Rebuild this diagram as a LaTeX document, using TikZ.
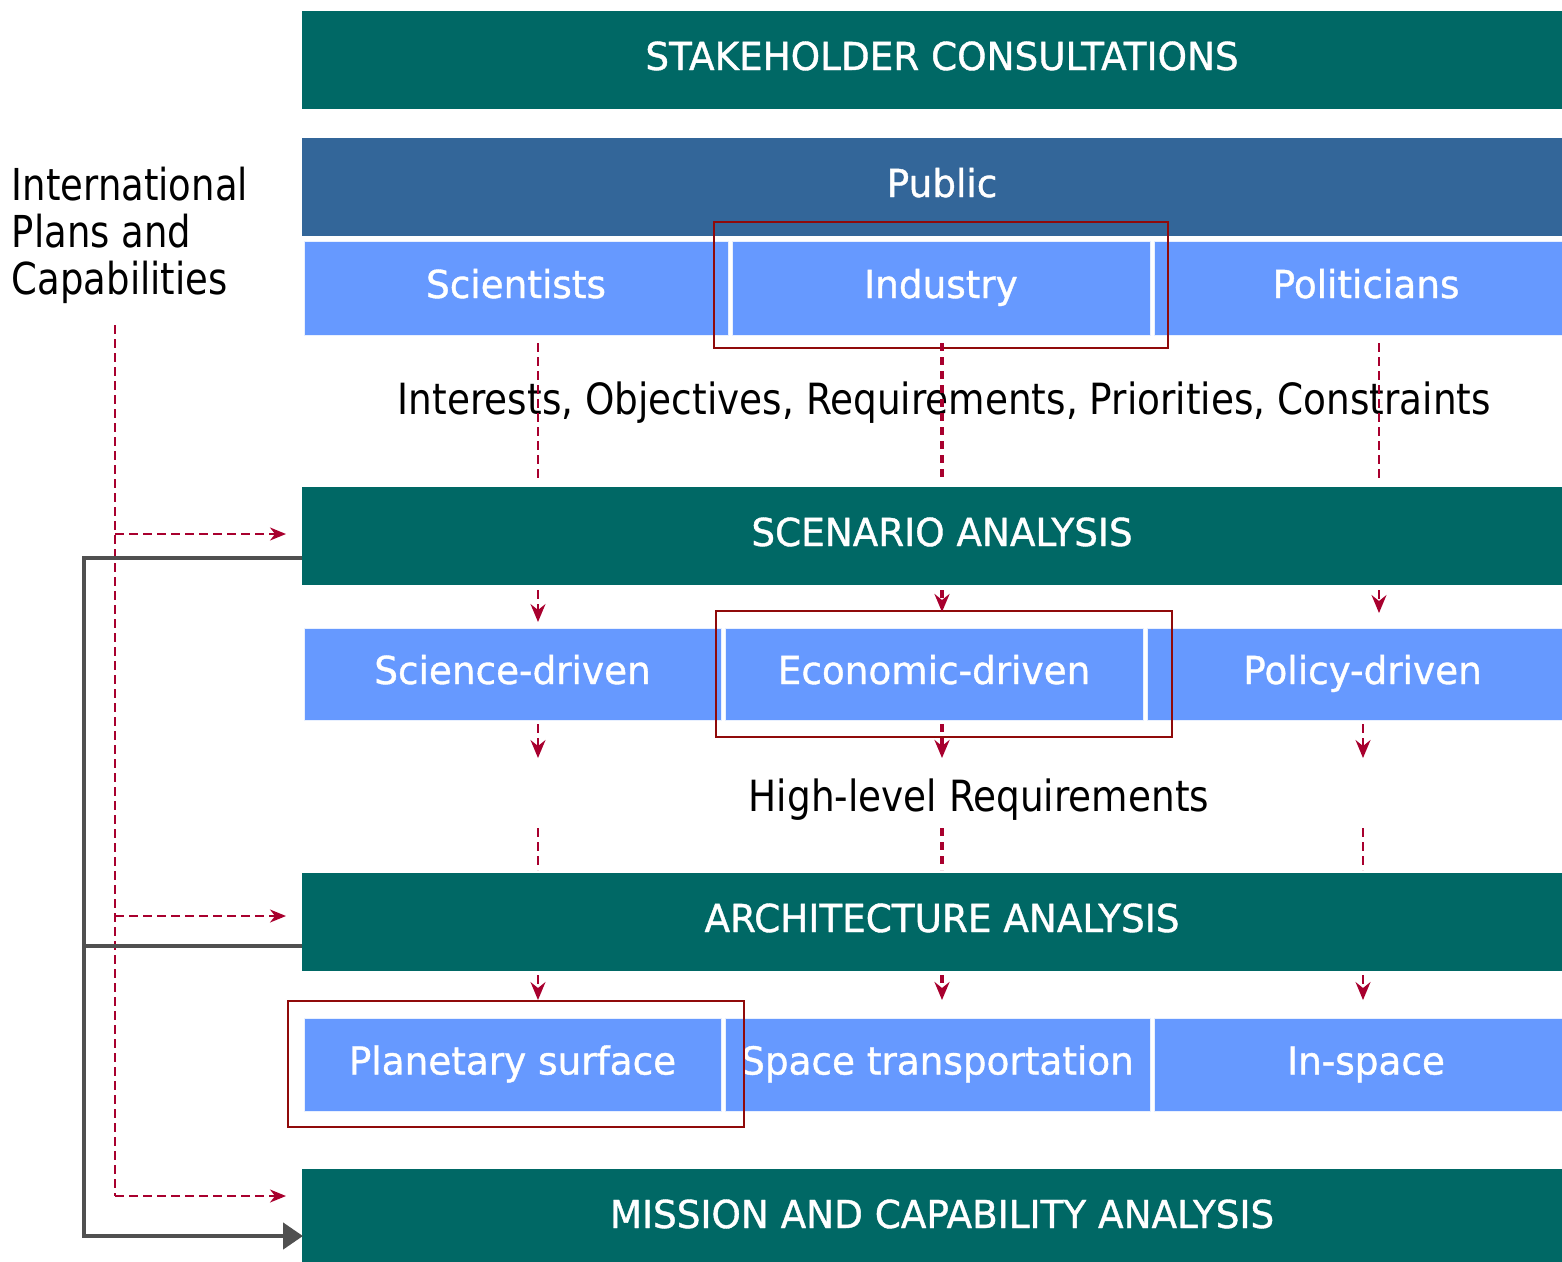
\documentclass[tikz,border=0pt]{standalone}
\usepackage{fontspec}
\setmainfont{DejaVu Sans}[FakeStretch=0.87]
\newfontfamily\boxfont{DejaVu Sans}[FakeStretch=0.97, FakeBold=1.0]
\newfontfamily\leftfont{DejaVu Sans}[FakeStretch=0.84]
\usetikzlibrary{arrows.meta}
\definecolor{tealbar}{HTML}{006865}
\definecolor{pubblue}{HTML}{336699}
\definecolor{cellblue}{HTML}{6699FF}
\definecolor{dashred}{HTML}{A8002E}
\definecolor{boxred}{HTML}{900A0A}
\definecolor{conngray}{HTML}{505050}
\tikzset{
  btxt/.style={font=\boxfont\fontsize{38.5}{46}\selectfont, inner sep=0pt, outer sep=0pt,
    text height=28pt, text depth=8pt},
  ltxt/.style={font=\fontsize{43}{47}\selectfont, inner sep=0pt, outer sep=0pt},
  bar/.style={btxt, rectangle, fill=tealbar, text=white, minimum width=1280pt, minimum height=98pt},
  pubbar/.style={bar, fill=pubblue},
  cell/.style={btxt, rectangle, fill=cellblue, text=white, draw=white!85!cellblue, line width=1pt},
  hlbox/.style={rectangle, draw=boxred, line width=2pt, minimum width=456pt, minimum height=126pt, inner sep=0pt},
  thindash/.style={draw=dashred, line width=1.8pt, dash pattern=on 9pt off 5pt},
  thickdash/.style={draw=dashred, line width=3.6pt, dash pattern=on 8pt off 6pt},
  redtip/.style={-{Stealth[length=18pt,width=15pt,inset=6pt]}},
  sidetip/.style={-{Stealth[length=16pt,width=13pt,inset=5pt]}},
  gline/.style={draw=conngray, line width=4.5pt},
}
\begin{document}
\begin{tikzpicture}[x=1pt,y=-1pt]
\useasboundingbox (0,0) rectangle (1562,1261);
\clip (0,0) rectangle (1562,1261);

% bars
\node[bar] (stake) at (942,60) {STAKEHOLDER CONSULTATIONS};
\node[pubbar] (public) at (942,187) {Public};
\node[bar] (scen) at (942,536) {SCENARIO ANALYSIS};
\node[bar] (arch) at (942,922) {ARCHITECTURE ANALYSIS};
\node[bar] (miss) at (942,1218) {MISSION AND CAPABILITY ANALYSIS};

% row 1
\node[cell, minimum width=424pt, minimum height=94pt] (sci) at (516,288) {Scientists};
\node[cell, minimum width=418pt, minimum height=94pt] (ind) at (941,288) {Industry};
\node[cell, minimum width=424pt, minimum height=94pt] (pol) at (1366,288) {Politicians};
% row 2
\node[cell, minimum width=417pt, minimum height=92pt] (sdr) at (512.5,674) {Science-driven};
\node[cell, minimum width=418pt, minimum height=92pt] (edr) at (934,674) {Economic-driven};
\node[cell, minimum width=431pt, minimum height=92pt] (pdr) at (1362.5,674) {Policy-driven};
% row 3
\node[cell, minimum width=417pt, minimum height=93pt] (pls) at (512.5,1064.5) {Planetary surface};
\node[cell, minimum width=425pt, minimum height=93pt] (spt) at (937.5,1064.5) {Space transportation};
\node[cell, minimum width=424pt, minimum height=93pt] (ins) at (1366,1064.5) {In-space};

% highlight boxes
\node[hlbox, minimum width=454pt] (hl1) at (941,285) {};
\node[hlbox] (hl2) at (944,674) {};
\node[hlbox] (hl3) at (516,1064) {};

% labels
\node[ltxt, anchor=base] (lab1) at (944.5,414) {Interests, Objectives, Requirements, Priorities, Constraints};
\node[ltxt, anchor=base] (lab2) at (979,811) {High-level Requirements};
\node[ltxt, anchor=base west] (intl1) at (12,200) {\leftfont\fontsize{44}{47}\selectfont International};
\node[ltxt, anchor=base west] (intl2) at (12,247) {\leftfont\fontsize{44}{47}\selectfont Plans and};
\node[ltxt, anchor=base west] (intl3) at (12,294) {\leftfont\fontsize{44}{47}\selectfont Capabilities};

% coordinates for connectors
\foreach \n/\x in {L/538, M/942, R/1379} {
  \coordinate (a\n) at (\x,343); \coordinate (b\n) at (\x,482);
  \coordinate (c\n) at (\x,590);
}
\coordinate (dL) at (538,622); \coordinate (dM) at (942,612); \coordinate (dR) at (1379,613);
\foreach \n/\x in {L/538, M/942, R/1363} {
  \coordinate (e\n) at (\x,724); \coordinate (f\n) at (\x,758);
  \coordinate (g\n) at (\x,828); \coordinate (h\n) at (\x,870);
  \coordinate (i\n) at (\x,975); \coordinate (j\n) at (\x,1000);
}

% dashed connectors
\draw[thindash] (aL) -- (bL);
\draw[thickdash] (aM) -- (bM);
\draw[thindash] (aR) -- (bR);
\draw[thindash, redtip] (cL) -- (dL);
\draw[thickdash, redtip] (cM) -- (dM);
\draw[thindash, redtip] (cR) -- (dR);
\draw[thindash, redtip] (eL) -- (fL);
\draw[thickdash, redtip] (eM) -- (fM);
\draw[thindash, redtip] (eR) -- (fR);
\draw[thindash] (gL) -- (hL);
\draw[thickdash] (gM) -- (hM);
\draw[thindash] (gR) -- (hR);
\draw[thindash, redtip] (iL) -- (jL);
\draw[thickdash, redtip] (iM) -- (jM);
\draw[thindash, redtip] (iR) -- (jR);

% left dashed feed
\coordinate (v0) at (115,325);
\coordinate (v1) at (115,534); \coordinate (w1) at (286,534);
\coordinate (v2) at (115,916); \coordinate (w2) at (286,916);
\coordinate (v3) at (115,1196); \coordinate (w3) at (286,1196);
\draw[thindash] (v0) -- (v3);
\draw[thindash, sidetip] (v1) -- (w1);
\draw[thindash, sidetip] (v2) -- (w2);
\draw[thindash, sidetip] (v3) -- (w3);

% gray connectors
\coordinate (g1) at (302,558); \coordinate (g2) at (84,558);
\coordinate (g3) at (84,1236); \coordinate (g4) at (303,1236);
\coordinate (g5) at (302,946); \coordinate (g6) at (84,946);
\draw[gline, -{Triangle[length=20pt,width=26pt]}] (g1) -- (g2) -- (g3) -- (g4);
\draw[gline] (g5) -- (g6);
\end{tikzpicture}
\end{document}
